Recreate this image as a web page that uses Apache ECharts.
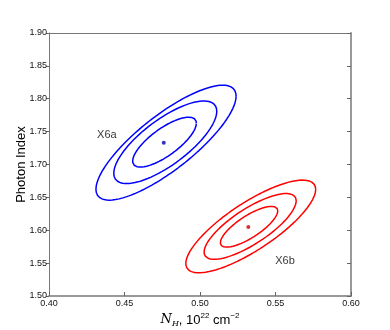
<!DOCTYPE html>
<html>
<head>
<meta charset="utf-8">
<script src="https://cdn.jsdelivr.net/npm/echarts@6/dist/echarts.min.js"></script>
<style>
  html, body { margin: 0; padding: 0; background: #fff; }
  #chart { width: 390px; height: 330px; }
</style>
</head>
<body>
<div id="chart"></div>
<script>
// contour ellipses: centre, half width in x, half height in y, correlation
var xTicks = [0.40, 0.45, 0.50, 0.55, 0.60];
var yTicks = [1.50, 1.55, 1.60, 1.65, 1.70, 1.75, 1.80, 1.85, 1.90];

var bestA = [0.476, 1.733];
var bestB = [0.532, 1.605];

var contourCxA = [0.4765, 0.4770, 0.4775];
var contourCyA = [1.7340, 1.7338, 1.7332];
var contourWA  = [0.0211, 0.0341, 0.0464];
var contourHA  = [0.0380, 0.0628, 0.0874];
var contourRA  = [0.76, 0.75, 0.81];

var contourCxB = [0.5325, 0.5332, 0.5336];
var contourCyB = [1.6053, 1.6058, 1.6058];
var contourWB  = [0.0190, 0.0305, 0.0430];
var contourHB  = [0.0310, 0.0500, 0.0705];
var contourRB  = [0.78, 0.78, 0.80];

var labels = [
  { name: 'X6a', value: [0.4383, 1.7445] },
  { name: 'X6b', value: [0.5563, 1.5535] }
];

// outline of an ellipse with the given extents (parametric form)
function outline(cx, cy, w, h, r) {
  var d = Math.acos(r), pts = [];
  for (var i = 0; i <= 180; i++) {
    var t = i / 180 * 2 * Math.PI;
    pts.push([cx + w * Math.cos(t), cy + h * Math.cos(t - d)]);
  }
  return pts;
}

var myChart = echarts.init(document.getElementById('chart'));
var font = '"Liberation Sans", Arial, Helvetica, sans-serif';

var series = [];
function addContours(cxs, cys, ws, hs, rs, color) {
  for (var i = 0; i < cxs.length; i++) {
    series.push({
      type: 'line',
      data: outline(cxs[i], cys[i], ws[i], hs[i], rs[i]),
      showSymbol: false,
      smooth: false,
      lineStyle: { color: color, width: 1.5 },
      silent: true
    });
  }
}
addContours(contourCxA, contourCyA, contourWA, contourHA, contourRA, '#0000ff');
addContours(contourCxB, contourCyB, contourWB, contourHB, contourRB, '#ff0000');

series.push({
  type: 'scatter',
  data: [{ value: bestA, itemStyle: { color: '#0000aa' } },
         { value: bestB, itemStyle: { color: '#cc0000' } }],
  symbolSize: 4
});
series.push({
  type: 'scatter',
  data: labels,
  symbolSize: 0,
  label: {
    show: true, position: 'inside', formatter: '{b}',
    color: '#000', fontSize: 11, fontFamily: font
  }
});

option = {
  animation: false,
  grid: { left: 49, right: 39, top: 33, bottom: 34, containLabel: false, outerBoundsMode: 'none' },
  xAxis: [
    {
      type: 'value', min: 0.40, max: 0.60, interval: 0.05,
      name: '{i|N}{s|H}{t|, 10}{p|22}{t| cm}{p|−2}',
      nameLocation: 'middle', nameGap: 16, nameMoveOverlap: false,
      nameTextStyle: {
        rich: {
          i: { fontFamily: 'DejaVu Serif, serif', fontStyle: 'italic', fontSize: 13, color: '#000' },
          s: { fontFamily: 'DejaVu Serif, serif', fontStyle: 'italic', fontSize: 8, color: '#000', padding: [8, 0, 0, 0] },
          t: { fontFamily: font, fontSize: 13, color: '#000' },
          p: { fontFamily: font, fontSize: 8, color: '#000', padding: [0, 0, 8, 0] }
        }
      },
      axisLine: { onZero: false, lineStyle: { color: '#999', width: 2 } },
      axisTick: { inside: true, length: 4, lineStyle: { color: '#666' } },
      axisLabel: {
        fontSize: 9, color: '#111', fontFamily: font, margin: 3,
        formatter: function (v) { return v.toFixed(2); }
      },
      splitLine: { show: false }
    },
    {
      type: 'value', min: 0.40, max: 0.60, position: 'top',
      axisLine: { onZero: false, lineStyle: { color: '#777', width: 1 } },
      axisTick: { show: false }, axisLabel: { show: false }, splitLine: { show: false }
    }
  ],
  yAxis: [
    {
      type: 'value', min: 1.50, max: 1.90, interval: 0.05,
      name: 'Photon Index', nameLocation: 'middle', nameGap: 21, nameMoveOverlap: false,
      nameTextStyle: { fontSize: 13, color: '#000', fontFamily: font },
      axisLine: { show: true, onZero: false, lineStyle: { color: '#777', width: 1 } },
      axisTick: { show: true, length: 3, lineStyle: { color: '#666' } },
      axisLabel: {
        fontSize: 9, color: '#111', fontFamily: font, margin: 2,
        formatter: function (v) { return v.toFixed(2); }
      },
      splitLine: { show: false }
    },
    {
      type: 'value', min: 1.50, max: 1.90, interval: 0.05, position: 'right',
      axisLine: { show: true, onZero: false, lineStyle: { color: '#999', width: 2 } },
      axisTick: { show: true, inside: true, length: 4, lineStyle: { color: '#666' } },
      axisLabel: { show: false }, splitLine: { show: false }
    }
  ],
  series: series
};

myChart.setOption(option);
</script>
</body>
</html>
